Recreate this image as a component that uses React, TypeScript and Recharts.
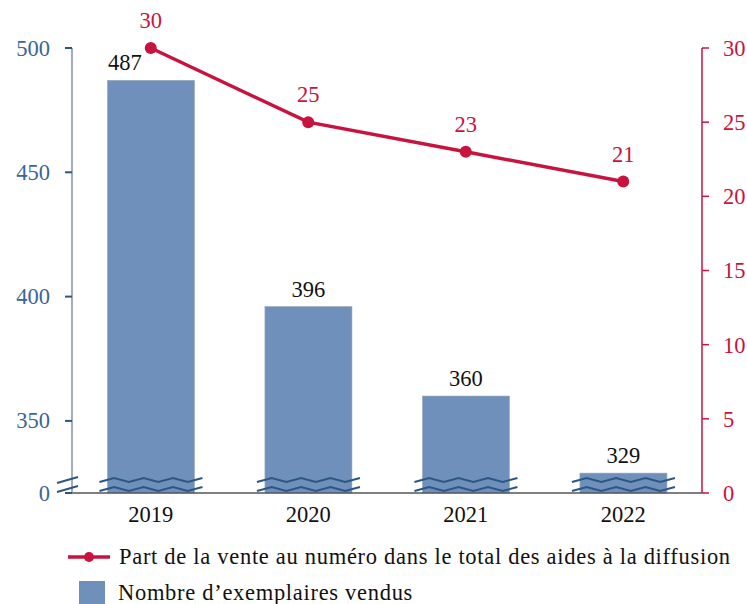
import React from "react";
import {
  Bar,
  ComposedChart,
  LabelList,
  Line,
  XAxis,
  YAxis,
} from "recharts";

const years = ["2019", "2020", "2021", "2022"];
const copiesSold = [487, 396, 360, 329];
const singleCopyShare = [30, 25, 23, 21];
// left axis is broken: the lowest tick sits at the break and reads "0"
const breakBase = 321;
const leftTicks = [breakBase, 350, 400, 450, 500];
const rightTicks = [0, 5, 10, 15, 20, 25, 30];

const BLUE_BAR = "#7090BC";
const BLUE_DARK = "#2C5684";
const BLUE_TEXT = "#3A6696";
const RED = "#C8133F";
const FONT = "'Liberation Serif', serif";
const FS = 22.5;

const data = years.map((year, i) => ({
  year,
  copies: copiesSold[i],
  share: singleCopyShare[i],
}));

function wave(x0: number, x1: number, y: number) {
  const steps = 7;
  const dx = (x1 - x0) / steps;
  let d = `M${x0},${y + 2}`;
  for (let i = 1; i <= steps; i++) {
    d += ` L${x0 + dx * i},${y + (i % 2 ? -2 : 2)}`;
  }
  return d;
}

function BrokenBar(props: any) {
  const { x, y, width, height } = props;
  const bottom = y + height;
  return (
    <g>
      <rect x={x} y={y} width={width} height={height} fill={BLUE_BAR} stroke="#9aa6b4" strokeWidth={0.6} />
      <path d={wave(x - 8, x + width + 8, bottom - 13)} fill="none" stroke={BLUE_DARK} strokeWidth={2} />
      <path d={wave(x - 8, x + width + 8, bottom - 4)} fill="none" stroke={BLUE_DARK} strokeWidth={2} />
    </g>
  );
}

// the first bar label is nudged left so it does not sit under the line's dot
function BarLabel(props: any) {
  const { x, y, width, value, index } = props;
  const shift = index === 0 ? -26 : 0;
  return (
    <text x={x + width / 2 + shift} y={y - 10} textAnchor="middle" fill="#111" fontSize={FS} fontFamily={FONT}>
      {value}
    </text>
  );
}

function LeftTick(props: any) {
  const { x, y, payload } = props;
  const isBreak = payload.value === breakBase;
  return (
    <g>
      <text x={x} y={y} dy={7.5} textAnchor="end" fill={BLUE_TEXT} fontSize={FS} fontFamily={FONT}>
        {isBreak ? "0" : payload.value}
      </text>
      {isBreak && (
        <g stroke={BLUE_DARK} strokeWidth={2}>
          <line x1={x + 7} y1={y - 10} x2={x + 28} y2={y - 16} />
          <line x1={x + 7} y1={y - 1} x2={x + 28} y2={y - 7} />
        </g>
      )}
    </g>
  );
}

export default function App() {
  return (
    <div
      style={{
        position: "relative",
        width: 747,
        height: 604,
        padding: 8,
        boxSizing: "border-box",
        fontFamily: FONT,
        background: "#fff",
      }}
    >
      <style>{"html{overflow:hidden}body{margin:0}"}</style>
      <ComposedChart
        width={739}
        height={520}
        data={data}
        margin={{ top: 40, right: 0, bottom: 0, left: 0 }}
        barCategoryGap="22.5%"
        style={{ overflow: "visible" }}
      >
        <XAxis
          dataKey="year"
          axisLine={{ stroke: "#555", strokeWidth: 1.5 }}
          tickLine={false}
          tick={{ fill: "#111", fontSize: FS, fontFamily: FONT }}
          tickMargin={7}
          height={35}
        />
        <YAxis
          yAxisId="left"
          width={64}
          domain={[breakBase, 500]}
          ticks={leftTicks}
          interval={0}
          axisLine={{ stroke: "#8292a6", strokeWidth: 1.5 }}
          tickLine={{ stroke: BLUE_DARK, strokeWidth: 2 }}
          tickSize={7}
          tickMargin={15}
          tick={<LeftTick />}
        />
        <YAxis
          yAxisId="right"
          orientation="right"
          width={45}
          domain={[0, 30]}
          ticks={rightTicks}
          interval={0}
          axisLine={{ stroke: RED, strokeWidth: 1.5 }}
          tickLine={{ stroke: RED, strokeWidth: 1.5 }}
          tickSize={7}
          tickMargin={14}
          tick={{ fill: RED, fontSize: FS, fontFamily: FONT }}
        />
        <Bar
          yAxisId="left"
          dataKey="copies"
          fill={BLUE_BAR}
          shape={<BrokenBar />}
          isAnimationActive={false}
        >
          <LabelList dataKey="copies" content={<BarLabel />} />
        </Bar>
        <Line
          yAxisId="right"
          dataKey="share"
          stroke={RED}
          strokeWidth={3.5}
          dot={{ r: 6, fill: RED, stroke: RED, strokeWidth: 0 }}
          isAnimationActive={false}
        >
          <LabelList
            dataKey="share"
            position="top"
            offset={20}
            fill={RED}
            fontSize={FS}
            fontFamily={FONT}
          />
        </Line>
      </ComposedChart>
      <div style={{ position: "absolute", left: 68, top: 545, fontSize: FS, letterSpacing: 0.7, color: "#111" }}>
        <div style={{ display: "flex", alignItems: "center", height: 24 }}>
          <svg width={51} height={24}>
            <line x1={0} y1={12} x2={42} y2={12} stroke={RED} strokeWidth={3.5} />
            <circle cx={21} cy={12} r={5} fill={RED} />
          </svg>
          <span>Part de la vente au numéro dans le total des aides à la diffusion</span>
        </div>
        <div style={{ display: "flex", alignItems: "center", height: 24, marginTop: 12 }}>
          <svg width={50} height={24}>
            <rect x={11} y={0} width={26} height={24} fill={BLUE_BAR} />
          </svg>
          <span>Nombre d’exemplaires vendus</span>
        </div>
      </div>
    </div>
  );
}
